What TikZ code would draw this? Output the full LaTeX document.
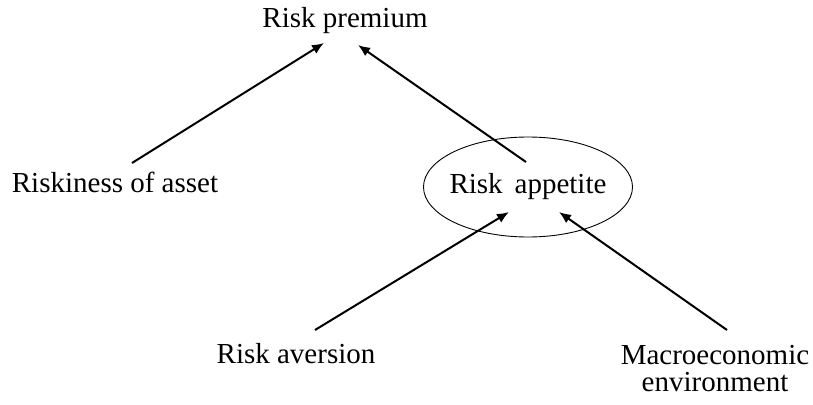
\documentclass[tikz,border=0pt]{standalone}
\usepackage{fontspec}
\setmainfont{Liberation Serif}
\usetikzlibrary{shapes.geometric,arrows.meta}

\begin{document}
\begin{tikzpicture}[x=1pt, y=-1pt,
  every node/.style={inner sep=0pt, font=\fontsize{29}{27}\selectfont},
  factor/.style={anchor=base},
  bubble/.style={draw, ellipse, line width=0.9pt, inner xsep=-5pt, minimum width=209pt, minimum height=100pt},
  link/.style={line width=2pt, -{Latex[length=12pt, width=10pt]}}]
  \useasboundingbox (0,0) rectangle (813,404);

  \node[factor] (prem) at (345,28) {Risk premium};
  \node[factor] (riskiness) at (115,192) {Riskiness of asset};
  \node[bubble] (appetite) at (528,187) {Risk\hspace{12pt}appetite};
  \node[factor] (aversion) at (296,363) {Risk aversion};
  \node[align=center] (macro) at (715,369) {Macroeconomic\\ environment};

  \draw[link] ([shift={(17,-29)}]riskiness.base) -- ([shift={(-21,15)}]prem.base);
  \draw[link] ([shift={(-2,-25)}]appetite.center) -- ([shift={(13,17)}]prem.base);
  \draw[link] ([shift={(19,-33)}]aversion.base) -- ([shift={(-19,25)}]appetite.center);
  \draw[link] ([shift={(12,-39)}]macro.center) -- ([shift={(31,25)}]appetite.center);

\end{tikzpicture}
\end{document}
